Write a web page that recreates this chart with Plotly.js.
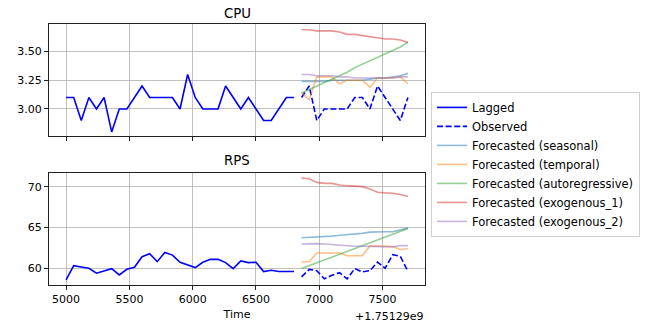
<!DOCTYPE html>
<html>
<head>
<meta charset="utf-8">
<script src="https://cdn.plot.ly/plotly-3.0.1.min.js"></script>
<style>html,body{margin:0;padding:0;background:#fff;}#chart{width:654px;height:324px;}</style>
</head>
<body>
<div id="chart"></div>
<script>
// time offsets (seconds, axis offset +1.75129e9)
const timeLagged = [5000,5060,5120,5180,5240,5300,5360,5420,5480,5540,5600,5660,5720,5780,5840,5900,5960,6020,6080,6140,6200,6260,6320,6380,6440,6500,6560,6620,6680,6740,6800];
const timeForecast = [6860,6920,6980,7040,7100,7160,7220,7280,7340,7400,7460,7520,7580,7640,7700];

const cpuLagged = [3.1,3.1,2.9,3.1,3.0,3.1,2.8,3.0,3.0,3.1,3.2,3.1,3.1,3.1,3.1,3.0,3.3,3.1,3.0,3.0,3.0,3.2,3.1,3.0,3.1,3.0,2.9,2.9,3.0,3.1,3.1];
const cpuObserved = [3.1,3.2,2.9,3.0,3.0,3.0,3.0,3.1,3.1,3.0,3.2,3.1,3.0,2.9,3.1];
const cpuSeasonal = [3.24,3.24,3.24,3.24,3.25,3.25,3.25,3.25,3.25,3.26,3.27,3.27,3.28,3.29,3.31];
const cpuTemporal = [3.14,3.08,3.28,3.28,3.28,3.22,3.25,3.25,3.25,3.19,3.27,3.27,3.27,3.28,3.22];
const cpuAutoreg = [3.14,3.17,3.20,3.23,3.26,3.29,3.32,3.36,3.39,3.42,3.45,3.48,3.51,3.54,3.58];
const cpuExog1 = [3.69,3.69,3.68,3.68,3.68,3.67,3.65,3.65,3.64,3.63,3.62,3.61,3.61,3.60,3.58];
const cpuExog2 = [3.30,3.30,3.29,3.29,3.29,3.28,3.28,3.27,3.27,3.27,3.27,3.27,3.27,3.28,3.28];

const rpsLagged = [58.63,60.36,60.2,60.04,59.44,59.72,60.0,59.23,59.92,60.16,61.45,61.81,60.85,61.98,61.65,60.77,60.44,60.12,60.77,61.13,61.13,60.73,60.0,60.93,60.73,60.77,59.64,59.8,59.64,59.64,59.64];
const rpsObserved = [59.0,59.9,59.75,58.75,59.2,59.5,58.75,60.0,59.6,59.75,60.8,60.05,61.7,61.5,59.65];
const rpsSeasonal = [63.76,63.8,63.88,63.92,63.96,64.08,64.16,64.16,64.3,64.45,64.5,64.5,64.5,64.68,64.94];
const rpsTemporal = [60.84,60.84,61.9,61.9,61.9,61.9,61.57,61.57,61.57,62.77,62.77,62.7,62.7,62.3,62.45];
const rpsAutoreg = [60.0,60.35,60.7,61.05,61.4,61.75,62.1,62.45,62.8,63.15,63.5,63.85,64.2,64.55,64.9];
const rpsExog1 = [71.04,70.96,70.52,70.4,70.4,70.2,70.12,70.04,70.0,69.72,69.32,69.24,69.2,69.04,68.8];
const rpsExog2 = [63.01,63.05,63.05,63.01,62.93,62.85,62.73,62.73,62.73,62.69,62.65,62.65,62.65,62.81,62.81];

const seriesNames = ['Lagged','Observed','Forecasted (seasonal)','Forecasted (temporal)','Forecasted (autoregressive)','Forecasted (exogenous_1)','Forecasted (exogenous_2)'];
const panelTitles = ['CPU','RPS'];
const xTicks = [5000,5500,6000,6500,7000,7500];
const cpuTicks = [3.00,3.25,3.50];
const rpsTicks = [60,65,70];

const fcColors = ['#1f77b4','#ff7f0e','#2ca02c','#d62728','#9467bd'];

function panel(lag, obs, fcs, xa, ya, show) {
  const out = [];
  out.push({x: timeLagged, y: lag, xaxis: xa, yaxis: ya, mode: 'lines', name: seriesNames[0],
    line: {color: '#0000ff', width: 1.6}, showlegend: show, legendrank: 1});
  out.push({x: timeForecast, y: obs, xaxis: xa, yaxis: ya, mode: 'lines', name: seriesNames[1],
    line: {color: '#0000ff', width: 1.6, dash: '6px,2.6px'}, showlegend: show, legendrank: 2});
  fcs.forEach((s, i) => {
    out.push({x: timeForecast, y: s, xaxis: xa, yaxis: ya, mode: 'lines', name: seriesNames[i+2],
      line: {color: fcColors[i], width: 1.6}, opacity: 0.5, showlegend: show, legendrank: i+3});
  });
  return out;
}

const data = [].concat(
  panel(cpuLagged, cpuObserved, [cpuSeasonal,cpuTemporal,cpuAutoreg,cpuExog1,cpuExog2], 'x', 'y', true),
  panel(rpsLagged, rpsObserved, [rpsSeasonal,rpsTemporal,rpsAutoreg,rpsExog1,rpsExog2], 'x2', 'y2', false)
);

const font = {family: 'DejaVu Sans', size: 11, color: '#000'};
const axCommon = {showline: true, mirror: true, linecolor: '#222', linewidth: 1,
  ticks: 'outside', ticklen: 4, tickcolor: '#222', showgrid: true, gridcolor: '#b0b0b0',
  gridwidth: 0.8, zeroline: false, tickfont: font};

const layout = {
  width: 654, height: 324,
  margin: {l: 49, r: 229, t: 24, b: 39},
  paper_bgcolor: '#fff', plot_bgcolor: '#fff',
  font: font,
  showlegend: true,
  xaxis: Object.assign({}, axCommon, {domain: [0,1], anchor: 'y', range: [4865, 7835], tickvals: xTicks, showticklabels: false}),
  yaxis: Object.assign({}, axCommon, {domain: [0.571, 1], anchor: 'x', range: [2.765, 3.74], tickvals: cpuTicks, tickformat: '.2f'}),
  xaxis2: Object.assign({}, axCommon, {domain: [0,1], anchor: 'y2', range: [4865, 7835], tickvals: xTicks,
    title: {text: 'Time', font: font, standoff: 5}}),
  yaxis2: Object.assign({}, axCommon, {domain: [0, 0.428], anchor: 'x2', range: [58.0, 71.63], tickvals: rpsTicks}),
  legend: {x: 1.016, y: 0.462, xanchor: 'left', yanchor: 'middle', bgcolor: '#fff',
    bordercolor: '#d0d0d0', borderwidth: 1, font: {family: 'DejaVu Sans', size: 11.5, color: '#000'},
    tracegroupgap: 0, itemwidth: 30, traceorder: 'normal'},
  annotations: [
    {text: panelTitles[0], xref: 'paper', yref: 'paper', x: 0.5, y: 1, yshift: 11, xanchor: 'center', yanchor: 'middle', showarrow: false, font: {family: 'DejaVu Sans', size: 13.3, color: '#000'}},
    {text: panelTitles[1], xref: 'paper', yref: 'paper', x: 0.5, y: 0.428, yshift: 13, xanchor: 'center', yanchor: 'middle', showarrow: false, font: {family: 'DejaVu Sans', size: 13.3, color: '#000'}},
    {text: '+1.75129e9', xref: 'paper', yref: 'paper', x: 1, y: 0, yshift: -31, xanchor: 'right', yanchor: 'middle', showarrow: false, font: font}
  ]
};

Plotly.newPlot('chart', data, layout, {displayModeBar: false, staticPlot: true});
</script>
</body>
</html>
